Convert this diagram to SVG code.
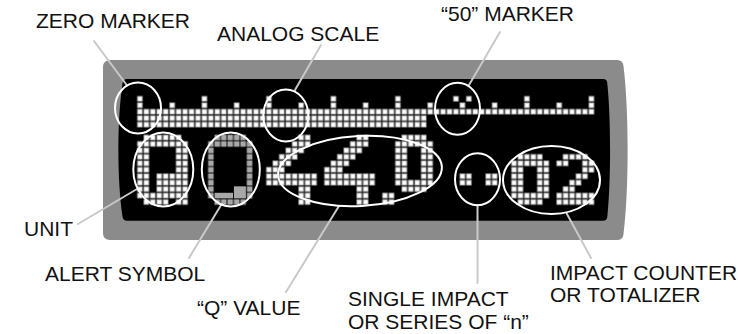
<svg xmlns="http://www.w3.org/2000/svg" width="738" height="334" viewBox="0 0 738 334">
<style>
.lbl{font-family:"Liberation Sans",Arial,Helvetica,sans-serif;font-size:21px;fill:#111}
.lead{stroke:#c9c9c9;stroke-width:2;fill:none;stroke-linecap:round}
.ring{fill:none;stroke:#fff;stroke-width:2}
.on{fill:url(#cell)}
.dim{fill:url(#dimcell)}
.blk{fill:#a8a8a8}
</style>
<defs>
<pattern id="cell" patternUnits="userSpaceOnUse" x="0" y="0" width="1" height="1">
<rect x="0.14" y="0.14" width="0.72" height="0.72" fill="#fff" stroke="#b8b8b8" stroke-width="0.14"/>
</pattern>
<pattern id="dimcell" patternUnits="userSpaceOnUse" x="0" y="0" width="1" height="1">
<rect x="0.07" y="0.07" width="0.86" height="0.86" fill="#a8a8a8"/>
</pattern>
</defs>
<rect width="738" height="334" fill="#fff"/>
<g id="device">
<path d="M111 60 L617 60 Q623 60 623.5 66 C629 110 629 190 623.5 234 Q623 240 617 240 L110 240 Q103 240 103 233 L103 67 Q103 60 111 60 Z" fill="#8b8b8b"/>
<path d="M127 79 L603 79 Q607 79 607.3 83 C611 120 611 180 607.3 217 Q607 220.7 603 220.7 L127 220.7 Q123 220.7 122.5 216.5 C117 180 117 120 122.5 83.5 Q123 79 127 79 Z" fill="#000"/>
</g>
<g id="display-grid" transform="translate(136.7 108.5) scale(6.45)">
<g id="analog-scale">
<rect class="on" x="0" y="0" width="71" height="1"/>
<rect class="on" x="0" y="1" width="45" height="2"/>
<rect class="on" x="0" y="-2" width="1" height="2"/>
<rect class="on" x="10" y="-2" width="1" height="2"/>
<rect class="on" x="20" y="-2" width="1" height="2"/>
<rect class="on" x="30" y="-2" width="1" height="2"/>
<rect class="on" x="40" y="-2" width="1" height="2"/>
<rect class="on" x="60" y="-2" width="1" height="2"/>
<rect class="on" x="70" y="-2" width="1" height="2"/>
<rect class="on" x="5" y="-1" width="1" height="1"/>
<rect class="on" x="15" y="-1" width="1" height="1"/>
<rect class="on" x="25" y="-1" width="1" height="1"/>
<rect class="on" x="35" y="-1" width="1" height="1"/>
<rect class="on" x="45" y="-1" width="1" height="1"/>
<rect class="on" x="55" y="-1" width="1" height="1"/>
<rect class="on" x="65" y="-1" width="1" height="1"/>
<rect class="on" x="49" y="-2" width="1" height="1"/>
<rect class="on" x="51" y="-2" width="1" height="1"/>
<rect class="on" x="50" y="-1" width="1" height="1"/>
</g>
<g id="glyph-q">
<rect class="on" x="1" y="4" width="6" height="1"/>
<rect class="on" x="0" y="5" width="8" height="1"/>
<rect class="on" x="0" y="6" width="2" height="4"/>
<rect class="on" x="6" y="6" width="2" height="4"/>
<rect class="on" x="0" y="10" width="2" height="3"/>
<rect class="on" x="3" y="10" width="5" height="3"/>
<rect class="on" x="0" y="13" width="8" height="1"/>
<rect class="on" x="1" y="14" width="4" height="1"/>
<rect class="on" x="6" y="14" width="2" height="1"/>
</g>
<g id="glyph-alert">
<rect class="dim" x="12" y="4" width="5" height="1"/>
<rect class="dim" x="11" y="5" width="7" height="1"/>
<rect class="dim" x="11" y="6" width="1" height="8"/>
<rect class="dim" x="17" y="6" width="1" height="8"/>
<rect class="blk" x="15.07" y="12.07" width="1.86" height="1.86"/>
<rect class="blk" x="12.07" y="13.07" width="2.86" height="0.86"/>
<rect class="dim" x="12" y="14" width="5" height="1"/>
</g>
<g id="glyph-4a">
<rect class="on" x="25" y="4" width="2" height="1"/>
<rect class="on" x="24" y="5" width="3" height="1"/>
<rect class="on" x="23" y="6" width="3" height="1"/>
<rect class="on" x="22" y="7" width="3" height="1"/>
<rect class="on" x="21" y="8" width="3" height="1"/>
<rect class="on" x="20" y="9" width="3" height="1"/>
<rect class="on" x="20" y="10" width="8" height="2"/>
<rect class="on" x="25" y="12" width="2" height="3"/>
</g>
<g id="glyph-4b">
<rect class="on" x="34" y="4" width="2" height="1"/>
<rect class="on" x="33" y="5" width="3" height="1"/>
<rect class="on" x="32" y="6" width="3" height="1"/>
<rect class="on" x="31" y="7" width="3" height="1"/>
<rect class="on" x="30" y="8" width="3" height="1"/>
<rect class="on" x="29" y="9" width="3" height="1"/>
<rect class="on" x="29" y="10" width="8" height="2"/>
<rect class="on" x="34" y="12" width="2" height="3"/>
</g>
<g id="glyph-point">
<rect class="on" x="38" y="13" width="2" height="2"/>
</g>
<g id="glyph-0-big">
<rect class="on" x="41" y="4" width="4" height="1"/>
<rect class="on" x="40" y="5" width="6" height="1"/>
<rect class="on" x="40" y="6" width="2" height="5"/>
<rect class="on" x="44" y="6" width="2" height="5"/>
<rect class="on" x="40" y="11" width="6" height="1"/>
<rect class="on" x="41" y="12" width="4" height="1"/>
</g>
<g id="glyph-colon">
<rect class="on" x="50" y="10" width="2" height="2"/>
<rect class="on" x="54" y="10" width="2" height="2"/>
</g>
<g id="glyph-0-small">
<rect class="on" x="59" y="7" width="4" height="1"/>
<rect class="on" x="58" y="8" width="6" height="1"/>
<rect class="on" x="58" y="9" width="2" height="4"/>
<rect class="on" x="62" y="9" width="2" height="4"/>
<rect class="on" x="58" y="13" width="6" height="1"/>
<rect class="on" x="59" y="14" width="4" height="1"/>
</g>
<g id="glyph-2">
<rect class="on" x="66" y="7" width="4" height="1"/>
<rect class="on" x="65" y="8" width="2" height="1"/>
<rect class="on" x="69" y="8" width="2" height="1"/>
<rect class="on" x="69" y="9" width="2" height="1"/>
<rect class="on" x="68" y="10" width="2" height="1"/>
<rect class="on" x="67" y="11" width="2" height="1"/>
<rect class="on" x="66" y="12" width="2" height="1"/>
<rect class="on" x="65" y="13" width="6" height="2"/>
</g>
</g>
<g id="connectors">
<line class="lead" x1="94" y1="41" x2="126.7" y2="85"/>
<line class="lead" x1="321" y1="45" x2="295" y2="90"/>
<line class="lead" x1="500" y1="32" x2="469" y2="85"/>
<line class="lead" x1="78" y1="224" x2="137" y2="189"/>
<line class="lead" x1="189" y1="258" x2="221.7" y2="204"/>
<line class="lead" x1="286" y1="292" x2="339" y2="206"/>
<line class="lead" x1="477.5" y1="205.2" x2="477.5" y2="283"/>
<line class="lead" x1="566.7" y1="213.5" x2="591" y2="258"/>
</g>
<g id="zero-marker">
<ellipse class="ring" cx="138" cy="108" rx="23" ry="25.5"/>
<text class="lbl" x="36" y="28">ZERO MARKER</text>
</g>
<g id="analog-scale-callout">
<ellipse class="ring" cx="285.8" cy="115.5" rx="22.5" ry="26"/>
<text class="lbl" x="217" y="41">ANALOG SCALE</text>
</g>
<g id="fifty-marker">
<ellipse class="ring" cx="457.5" cy="108.8" rx="22.5" ry="26"/>
<text class="lbl" x="441" y="21">“50” MARKER</text>
</g>
<g id="unit">
<ellipse class="ring" cx="163.3" cy="169.5" rx="30" ry="37"/>
<text class="lbl" x="24" y="236">UNIT</text>
</g>
<g id="alert-symbol">
<ellipse class="ring" cx="230.8" cy="169.5" rx="29" ry="37"/>
<text class="lbl" x="45" y="281">ALERT SYMBOL</text>
</g>
<g id="q-value">
<ellipse class="ring" cx="360" cy="171" rx="82" ry="35" transform="rotate(-3 360 171)"/>
<text class="lbl" x="197" y="315">“Q” VALUE</text>
</g>
<g id="single-impact">
<ellipse class="ring" cx="477.5" cy="179.2" rx="22.5" ry="26"/>
<text class="lbl" x="348" y="306">SINGLE IMPACT</text>
<text class="lbl" x="348" y="329">OR SERIES OF “n”</text>
</g>
<g id="impact-counter">
<ellipse class="ring" cx="551.5" cy="180" rx="48.5" ry="34"/>
<text class="lbl" x="550" y="280">IMPACT COUNTER</text>
<text class="lbl" x="550" y="302">OR TOTALIZER</text>
</g>
</svg>
